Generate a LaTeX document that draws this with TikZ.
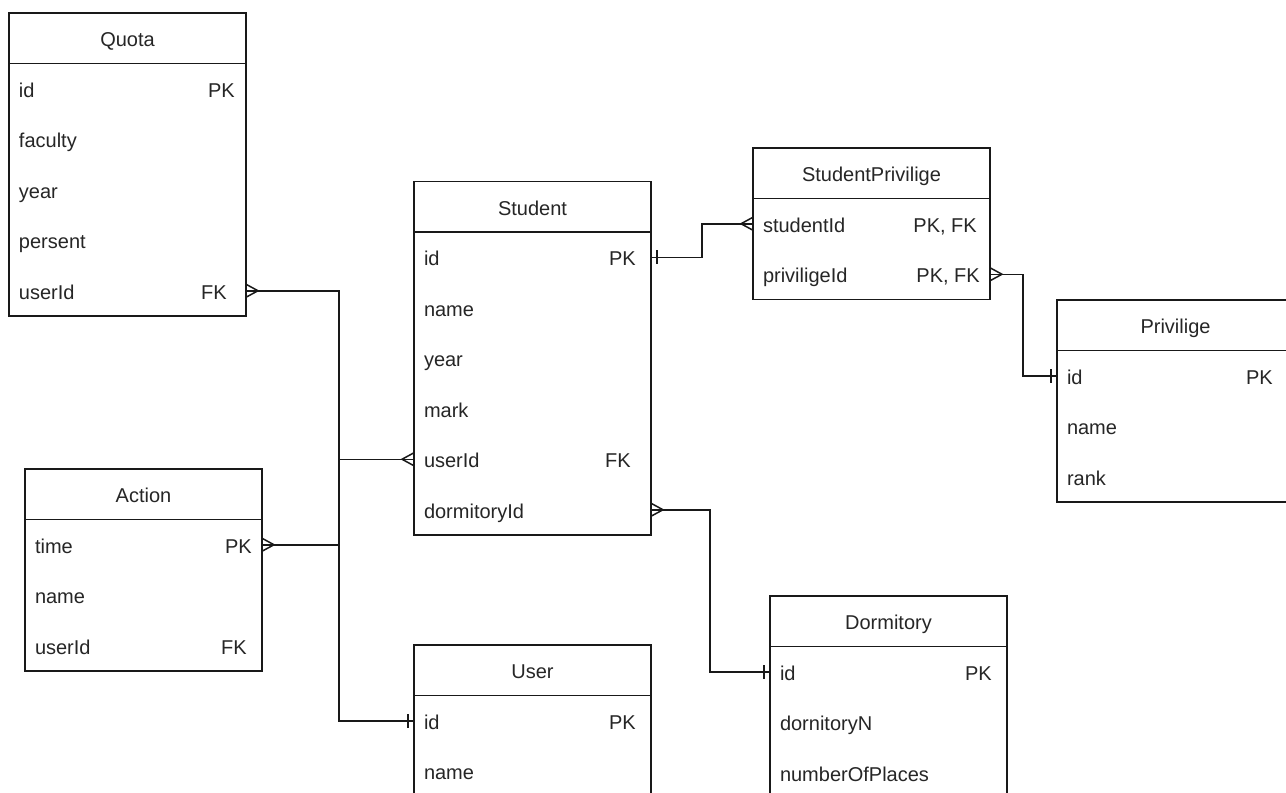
\documentclass[tikz,border=0pt]{standalone}
\usepackage{fontspec}
\setmainfont{Liberation Sans}
\newcommand\erfont{\fontsize{20}{24}\selectfont}
\begin{document}
\begin{tikzpicture}[x=1pt,y=-1pt,
  erline/.style={line width=1.5pt, draw=black!90},
  title/.style={draw=black!90, line width=1.5pt, minimum width=237pt, minimum height=50.5pt,
    inner sep=0pt, outer sep=0pt, anchor=north west, text height=16.8pt, text depth=0pt,
    font=\erfont, text=black!85},
  field/.style={inner xsep=10pt, inner ysep=0pt, outer sep=0pt, text width=217pt,
    minimum height=50.5pt, align=left, anchor=north west, text height=16.8pt,
    text depth=0pt, font=\erfont, text=black!85},
  key/.style={anchor=east, inner sep=0pt, text height=16.8pt, text depth=0pt,
    font=\erfont, text=black!85},
  crowfoot/.pic={\draw[erline] (0,-6.5) -- (12,0) -- (0,6.5);},
  onemark/.pic={\draw[erline] (6,-7) -- (6,7);}
]
\useasboundingbox (0,0) rectangle (1286,793);
\clip (0,0) rectangle (1286,793);
\fill[white] (0,0) rectangle (1286,793);

% ---------- Quota ----------
\node[title] (q-h) at (9,13) {Quota};
\node[field] (q-id) at (q-h.south west) {id};
\node[field] (q-faculty) at (q-id.south west) {faculty};
\node[field] (q-year) at (q-faculty.south west) {year};
\node[field] (q-persent) at (q-year.south west) {persent};
\node[field] (q-userId) at (q-persent.south west) {userId};
\draw[erline] (q-id.north west) rectangle (q-userId.south east);
\node[key] (q-pk) at ([xshift=-11pt]q-id.east) {PK};
\node[key] (q-fk) at ([xshift=-19pt]q-userId.east) {FK};

% ---------- Student ----------
\node[title] (s-h) at (414,181.5) {Student};
\node[field] (s-id) at (s-h.south west) {id};
\node[field] (s-name) at (s-id.south west) {name};
\node[field] (s-year) at (s-name.south west) {year};
\node[field] (s-mark) at (s-year.south west) {mark};
\node[field] (s-userId) at (s-mark.south west) {userId};
\node[field] (s-dormitoryId) at (s-userId.south west) {dormitoryId};
\draw[erline] (s-id.north west) rectangle (s-dormitoryId.south east);
\node[key] (s-pk) at ([xshift=-15pt]s-id.east) {PK};
\node[key] (s-fk) at ([xshift=-20pt]s-userId.east) {FK};

% ---------- StudentPrivilige ----------
\node[title] (sp-h) at (753,148) {StudentPrivilige};
\node[field] (sp-studentId) at (sp-h.south west) {studentId};
\node[field] (sp-priviligeId) at (sp-studentId.south west) {priviligeId};
\draw[erline] (sp-studentId.north west) rectangle (sp-priviligeId.south east);
\node[key] (sp-k1) at ([xshift=-13pt]sp-studentId.east) {PK, FK};
\node[key] (sp-k2) at ([xshift=-10pt]sp-priviligeId.east) {PK, FK};

% ---------- Privilige ----------
\node[title] (p-h) at (1057,300) {Privilige};
\node[field] (p-id) at (p-h.south west) {id};
\node[field] (p-name) at (p-id.south west) {name};
\node[field] (p-rank) at (p-name.south west) {rank};
\draw[erline] (p-id.north west) rectangle (p-rank.south east);
\node[key] (p-pk) at ([xshift=-21pt]p-id.east) {PK};

% ---------- Action ----------
\node[title] (a-h) at (25,469) {Action};
\node[field] (a-time) at (a-h.south west) {time};
\node[field] (a-name) at (a-time.south west) {name};
\node[field] (a-userId) at (a-name.south west) {userId};
\draw[erline] (a-time.north west) rectangle (a-userId.south east);
\node[key] (a-pk) at ([xshift=-10pt]a-time.east) {PK};
\node[key] (a-fk) at ([xshift=-15pt]a-userId.east) {FK};

% ---------- User ----------
\node[title] (u-h) at (414,645) {User};
\node[field] (u-id) at (u-h.south west) {id};
\node[field] (u-name) at (u-id.south west) {name};
\draw[erline] (u-id.north west) rectangle (u-name.south east);
\node[key] (u-pk) at ([xshift=-15pt]u-id.east) {PK};

% ---------- Dormitory ----------
\node[title] (d-h) at (770,596) {Dormitory};
\node[field] (d-id) at (d-h.south west) {id};
\node[field] (d-dornitoryN) at (d-id.south west) {dornitoryN};
\node[field] (d-places) at (d-dornitoryN.south west) {numberOfPlaces};
\draw[erline] (d-id.north west) rectangle (d-places.south east);
\node[key] (d-pk) at ([xshift=-15pt]d-id.east) {PK};

% ---------- relationships ----------
\coordinate (bus) at (339,0);
\coordinate (jogA) at (702,0);
\coordinate (jogB) at (1023,0);
\coordinate (jogC) at (710,0);

\draw[erline] (q-userId.east) -| (bus |- u-id.west) -- (u-id.west);
\draw[erline] (s-userId.west) -- (bus |- s-userId.west);
\draw[erline] (a-time.east) -- (bus |- a-time.east);
\draw[erline] (s-id.east) -| (jogA |- sp-studentId.west) -- (sp-studentId.west);
\draw[erline] (sp-priviligeId.east) -| (jogB |- p-id.west) -- (p-id.west);
\draw[erline] (s-dormitoryId.east) -| (jogC |- d-id.west) -- (d-id.west);

% many ends
\pic at (q-userId.east) {crowfoot};
\pic at (a-time.east) {crowfoot};
\pic at (sp-priviligeId.east) {crowfoot};
\pic at (s-dormitoryId.east) {crowfoot};
\pic[rotate=180] at (s-userId.west) {crowfoot};
\pic[rotate=180] at (sp-studentId.west) {crowfoot};
% one ends
\pic at (s-id.east) {onemark};
\pic[rotate=180] at (u-id.west) {onemark};
\pic[rotate=180] at (p-id.west) {onemark};
\pic[rotate=180] at (d-id.west) {onemark};
\end{tikzpicture}
\end{document}
